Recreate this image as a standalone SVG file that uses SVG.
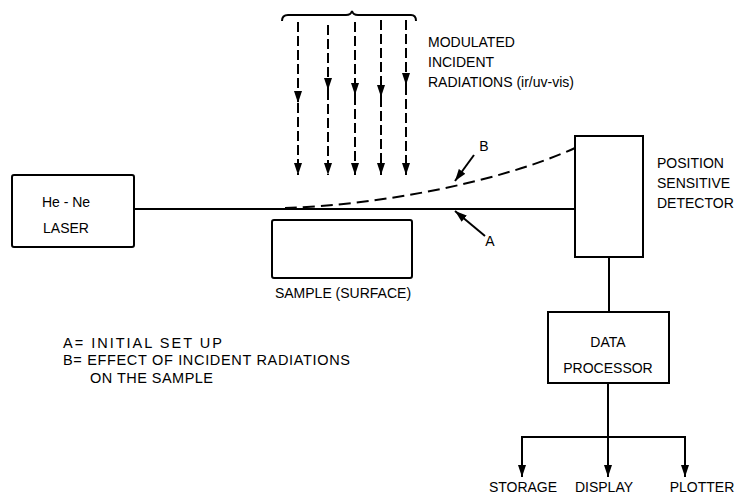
<svg xmlns="http://www.w3.org/2000/svg" width="735" height="495" viewBox="0 0 735 495">
<style>
.box{fill:none;stroke:#000;stroke-width:2}
.ln{fill:none;stroke:#000;stroke-width:2}
.dash{fill:none;stroke:#000;stroke-width:2;stroke-dasharray:10 4}
.t{font-family:"Liberation Sans",Arial,sans-serif;font-size:14px;fill:#000}
.lg{font-size:14.5px}
.c{text-anchor:middle}
</style>
<defs>
<marker id="ah" viewBox="0 0 12 8" refX="12" refY="4" markerWidth="12" markerHeight="8" markerUnits="userSpaceOnUse" orient="auto">
<path d="M0,0 L12,4 L0,8 Z" fill="#000"/>
</marker>
</defs>
<rect width="735" height="495" fill="#fff"/>
<g id="laser">
<rect class="box" x="12" y="175" width="122" height="72" rx="2"/>
<text class="t c" x="66" y="207">He - Ne</text>
<text class="t c" x="66" y="233">LASER</text>
</g>
<g id="sample">
<rect class="box" x="272" y="220" width="140" height="58" rx="2"/>
<text class="t c" x="343" y="298">SAMPLE (SURFACE)</text>
</g>
<g id="detector">
<rect class="box" x="575" y="136" width="68" height="121"/>
<text class="t" x="657" y="168">POSITION</text>
<text class="t" x="657" y="188">SENSITIVE</text>
<text class="t" x="657" y="208">DETECTOR</text>
</g>
<g id="processor">
<rect class="box" x="548" y="312" width="121" height="71"/>
<text class="t c" x="608" y="347">DATA</text>
<text class="t c" x="608" y="373">PROCESSOR</text>
</g>
<g id="radiation">
<path class="ln" d="M282,21 Q282,15 288,15 L346,15 Q351,15 352,11 Q353,15 358,15 L411,15 Q416,15 416,21"/>
<text class="t" x="428" y="47">MODULATED</text>
<text class="t" x="428" y="67">INCIDENT</text>
<text class="t" x="428" y="87">RADIATIONS (ir/uv-vis)</text>
</g>
<g id="connectors">
<line class="dash" x1="298" y1="22" x2="298" y2="103" marker-end="url(#ah)"/>
<line class="dash" x1="298" y1="103" x2="298" y2="175" marker-end="url(#ah)"/>
<line class="dash" x1="328" y1="25" x2="328" y2="90" marker-end="url(#ah)"/>
<line class="dash" x1="328" y1="90" x2="328" y2="175" marker-end="url(#ah)"/>
<line class="dash" x1="355" y1="22" x2="355" y2="95" marker-end="url(#ah)"/>
<line class="dash" x1="355" y1="95" x2="355" y2="175" marker-end="url(#ah)"/>
<line class="dash" x1="381" y1="20" x2="381" y2="97" marker-end="url(#ah)"/>
<line class="dash" x1="381" y1="97" x2="381" y2="175" marker-end="url(#ah)"/>
<line class="dash" x1="406" y1="20" x2="406" y2="85" marker-end="url(#ah)"/>
<line class="dash" x1="406" y1="85" x2="406" y2="175" marker-end="url(#ah)"/>
<line class="ln" x1="134" y1="209" x2="575" y2="209"/>
<path class="dash" d="M285,208 C380,205 500,182 575,148" style="stroke-dasharray:12 6"/>
<line class="ln" x1="474" y1="155" x2="455" y2="181" marker-end="url(#ah)" stroke-width="1.5"/>
<line class="ln" x1="485" y1="236" x2="455" y2="211" marker-end="url(#ah)" stroke-width="1.5"/>
<line class="ln" x1="609" y1="257" x2="609" y2="312"/>
<line class="ln" x1="608" y1="383" x2="608" y2="477" marker-end="url(#ah)"/>
<line class="ln" x1="522" y1="437" x2="685" y2="437"/>
<line class="ln" x1="522" y1="436" x2="522" y2="477" marker-end="url(#ah)"/>
<line class="ln" x1="685" y1="436" x2="685" y2="477" marker-end="url(#ah)"/>
</g>
<g id="labels">
<text class="t c" x="484" y="151">B</text>
<text class="t c" x="490" y="246">A</text>
<text class="t lg" x="63" y="348" textLength="159" lengthAdjust="spacing">A= INITIAL SET UP</text>
<text class="t lg" x="63" y="365" textLength="287" lengthAdjust="spacing">B= EFFECT OF INCIDENT RADIATIONS</text>
<text class="t lg" x="90" y="383" textLength="123" lengthAdjust="spacing">ON THE SAMPLE</text>
<text class="t c" x="523" y="492">STORAGE</text>
<text class="t c" x="604" y="492">DISPLAY</text>
<text class="t c" x="702" y="492">PLOTTER</text>
</g>
</svg>
